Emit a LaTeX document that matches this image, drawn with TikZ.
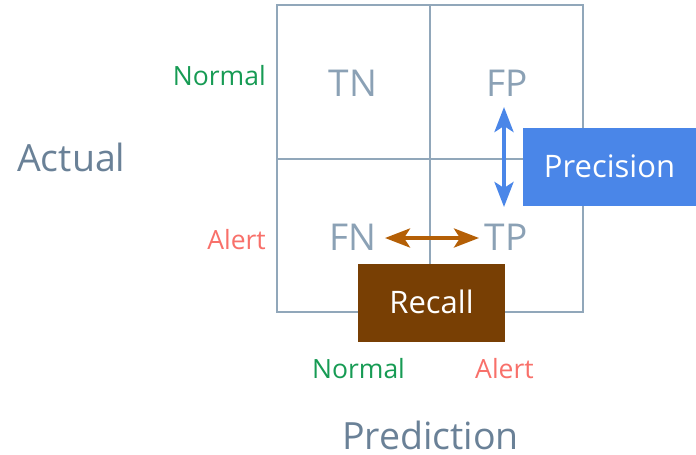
\documentclass[tikz,border=0pt]{standalone}
\usepackage{fontspec}
\setmainfont{Open Sans}
\usetikzlibrary{arrows.meta}

\definecolor{gridline}{HTML}{91A7BA}
\definecolor{celltext}{HTML}{8BA1B5}
\definecolor{axistext}{HTML}{6A8197}
\definecolor{normalgreen}{HTML}{179B54}
\definecolor{alertred}{HTML}{F8706A}
\definecolor{precblue}{HTML}{4A86E8}
\definecolor{recallbrown}{HTML}{783F04}
\definecolor{arrowbrown}{HTML}{B45F06}

\tikzset{
  txt/.style={inner sep=0pt, text depth=0pt, anchor=base},
  cell/.style={txt, text=celltext, font=\fontsize{37}{40}\selectfont},
  axis/.style={txt, text=axistext, font=\fontsize{37.5}{42}\selectfont},
  cls/.style={txt, font=\fontsize{26.5}{30}\selectfont},
  metricbox/.style={draw=none, inner sep=0pt, text=white, font=\fontsize{31}{34}\selectfont},
  twoway/.style={line width=4pt, {Stealth[length=25pt, width=19pt, inset=6pt]}-{Stealth[length=25pt, width=19pt, inset=6pt]}}
}

\begin{document}
\begin{tikzpicture}[x=1pt, y=-1pt]
  \useasboundingbox (0,0) rectangle (696,455);

  % confusion matrix grid
  \draw[gridline, line width=2pt] (277,5) rectangle (583,312);
  \draw[gridline, line width=2pt] (430,5) -- (430,312);
  \draw[gridline, line width=2pt] (277,159) -- (583,159);

  % cell labels
  \node[cell] (tn) at (353,96.7) {TN};
  \node[cell] (fp) at (507.5,96.7) {FP};
  \node[cell] (fn) at (353,250) {FN};
  \node[cell] (tp) at (506,250) {TP};

  % axis titles
  \node[axis, anchor=base west] (actual) at (17,171.7) {Actual};
  \node[axis] (prediction) at (430.5,449) {Prediction};

  % class labels
  \node[cls, anchor=base east, text=normalgreen] (rownormal) at (266,85) {Normal};
  \node[cls, anchor=base east, text=alertred] (rowalert) at (266,249) {Alert};
  \node[cls, text=normalgreen] (colnormal) at (358.5,378) {Normal};
  \node[cls, text=alertred] (colalert) at (504.5,378) {Alert};

  % arrow end points
  \coordinate (ptop) at (504,107);
  \coordinate (pbot) at (504,207);
  \coordinate (rleft) at (385,238);
  \coordinate (rright) at (479,238);

  \draw[twoway, precblue] (ptop) -- (pbot);
  \draw[twoway, arrowbrown] (rleft) -- (rright);

  % metric boxes
  \fill[precblue] (523,128) rectangle (696,206);
  \node[metricbox] (precision) at (609.5,166) {Precision};
  \fill[recallbrown] (358,264) rectangle (505,342);
  \node[metricbox] (recall) at (431.5,302) {Recall};
\end{tikzpicture}
\end{document}
